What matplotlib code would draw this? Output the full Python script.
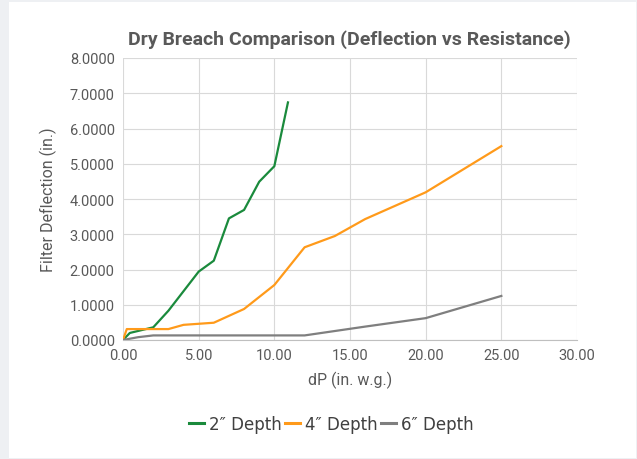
import matplotlib
matplotlib.use("Agg")
import matplotlib.pyplot as plt
from matplotlib.patches import Rectangle
from matplotlib.ticker import FormatStrFormatter, MultipleLocator

x2 = [0, 0.45, 2, 3, 5, 6, 7, 8, 9, 10, 10.9]
y2 = [0, 0.2, 0.36, 0.83, 1.94, 2.25, 3.45, 3.69, 4.49, 4.93, 6.74]
x4 = [0, 0.25, 3, 4, 6, 8, 10, 12, 14, 16, 20, 25]
y4 = [0, 0.31, 0.31, 0.43, 0.49, 0.88, 1.56, 2.63, 2.95, 3.43, 4.19, 5.5]
x6 = [0, 1, 2, 12, 16, 20, 25]
y6 = [0, 0.08, 0.13, 0.13, 0.38, 0.62, 1.25]
labels = ["2\u2033 Depth", "4\u2033 Depth", "6\u2033 Depth"]
colors = ["#1a8a3c", "#ff9a1a", "#7f7f7f"]

W, H = 637, 460
plt.rcParams['font.family'] = ['Roboto', 'DejaVu Sans']
fig = plt.figure(figsize=(W/100, H/100), dpi=100)
fig.patch.set_facecolor('#eef0f3')
fig.add_artist(Rectangle((9/W, 1-459/H), (636-9)/W, (459-3)/H, transform=fig.transFigure,
                         facecolor='white', edgecolor='none', zorder=0))
ax = fig.add_axes([123/W, 1-341/H, (577-123)/W, (341-59)/H])
ax.set_facecolor('white')
for xs, ys, lab, c in zip([x2, x4, x6], [y2, y4, y6], labels, colors):
    ax.plot(xs, ys, color=c, lw=1.6, label=lab)
ax.set_xlim(0, 30)
ax.set_ylim(0, 8)
ax.xaxis.set_major_locator(MultipleLocator(5))
ax.yaxis.set_major_locator(MultipleLocator(1))
ax.xaxis.set_major_formatter(FormatStrFormatter('%.2f'))
ax.yaxis.set_major_formatter(FormatStrFormatter('%.4f'))
ax.grid(True, color='#d9d9d9', lw=0.8)
ax.set_axisbelow(True)
for s in ['top', 'right', 'left']:
    ax.spines[s].set_visible(False)
ax.spines['bottom'].set_color('#bfbfbf')
ax.tick_params(length=0, labelsize=10.5, colors='#595959', pad=6)
ax.set_xlabel("dP (in. w.g.)", fontsize=11.5, color='#595959', labelpad=6)
ax.set_ylabel("Filter Deflection (in.)", fontsize=11.5, color='#595959', labelpad=9)
fig.text(349/W, 1-40/H, "Dry Breach Comparison (Deflection vs Resistance)",
         ha='center', va='center', fontsize=14, fontweight='bold', color='#595959')
leg = fig.legend(loc='center', bbox_to_anchor=(331/W, 1-425/H), ncol=3, frameon=False,
                 handlelength=0.9, handletextpad=0.3, columnspacing=0.2,
                 prop={'family': 'DejaVu Sans', 'size': 12}, labelcolor='#404040')
for l in leg.get_lines():
    l.set_linewidth(2.2)
fig.savefig("out.png", dpi=100, facecolor=fig.get_facecolor())
